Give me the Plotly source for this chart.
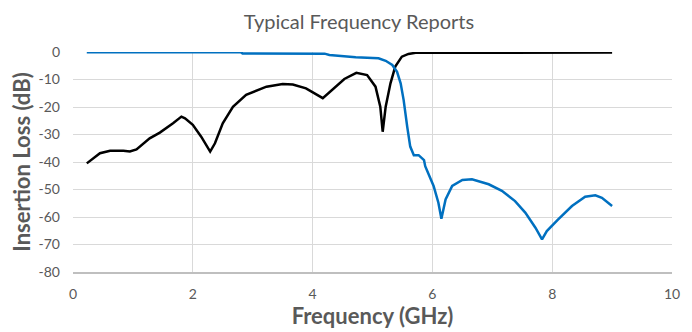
import plotly.graph_objects as go

# Black curve (pass-band / reflection response)
black_x = [0.23, 0.45, 0.62, 0.84, 0.95, 1.06, 1.28, 1.45, 1.67, 1.81, 1.87, 2.0, 2.14, 2.29, 2.37, 2.5,
           2.67, 2.89, 3.23, 3.5, 3.67, 3.89, 4.17, 4.33, 4.53, 4.73, 4.91, 5.05, 5.13, 5.17, 5.22, 5.3,
           5.38, 5.49, 5.6, 5.72, 6.0, 6.5, 7.0, 7.5, 8.0, 8.5, 9.0]
black_y = [-40.5, -36.8, -35.9, -35.9, -36.2, -35.4, -31.4, -29.3, -25.9, -23.5, -24.1, -26.5, -30.8, -36.2,
           -33.2, -25.9, -19.9, -15.6, -12.6, -11.6, -11.8, -13.2, -16.8, -13.8, -9.8, -7.6, -8.4, -12.6,
           -19.9, -29.0, -19.9, -11.4, -5.3, -1.7, -0.7, -0.3, -0.3, -0.2, -0.2, -0.2, -0.2, -0.2, -0.2]

# Blue curve (low-pass response)
blue_x = [0.23, 1.0, 2.0, 2.8, 2.83, 3.5, 4.2, 4.28, 4.53, 4.72, 5.1, 5.22, 5.33, 5.41, 5.47, 5.52, 5.58,
          5.63, 5.69, 5.77, 5.86, 5.88, 6.02, 6.1, 6.15, 6.22, 6.33, 6.5, 6.66, 6.94, 7.16, 7.38, 7.55,
          7.72, 7.83, 7.91, 8.1, 8.33, 8.55, 8.72, 8.83, 9.0]
blue_y = [-0.1, -0.1, -0.1, -0.1, -0.5, -0.5, -0.6, -1.1, -1.6, -1.9, -2.3, -3.2, -4.7, -7.2, -11.4, -17.5,
          -27.2, -34.4, -37.5, -37.5, -39.3, -41.5, -48.7, -54.8, -60.6, -53.6, -48.7, -46.5, -46.3, -48.1,
          -50.5, -54.2, -58.4, -63.9, -68.1, -65.1, -60.9, -56.0, -52.6, -52.1, -53.0, -56.0]

x_ticks = [0, 2, 4, 6, 8, 10]
y_ticks = [0, -10, -20, -30, -40, -50, -60, -70, -80]

fig = go.Figure()
fig.add_trace(go.Scatter(x=black_x, y=black_y, mode="lines",
                         line=dict(color="#000000", width=2.5), showlegend=False))
fig.add_trace(go.Scatter(x=blue_x, y=blue_y, mode="lines",
                         line=dict(color="#0070C0", width=2.5), showlegend=False))

# page body has an 8px default margin, so the figure is sized/offset to compensate
fig.update_layout(
    width=684, height=324,
    margin=dict(l=65, r=20, t=44, b=60),
    paper_bgcolor="white", plot_bgcolor="white",
    font=dict(family="Lato, Open Sans, sans-serif", color="#595959"),
    title=dict(text="Typical Frequency Reports", x=351 / 684, xanchor="center", xref="container",
               y=1 - 14 / 324, yanchor="middle", yref="container",
               font=dict(size=20, color="#595959")),
)
fig.update_xaxes(range=[0, 10], tickvals=x_ticks, ticktext=[str(v) for v in x_ticks],
                 showgrid=True, gridcolor="#d9d9d9", gridwidth=1,
                 showline=True, linecolor="#bfbfbf", linewidth=1.5,
                 zeroline=False, ticks="", ticklabelstandoff=8, automargin=False,
                 tickfont=dict(size=14, color="#595959"),
                 title=dict(text="<b>Frequency (GHz)</b>", font=dict(size=22, color="#595959"), standoff=6))
fig.update_yaxes(range=[-80, 0], tickvals=y_ticks, ticktext=[str(v) for v in y_ticks],
                 showgrid=True, gridcolor="#d9d9d9", gridwidth=1,
                 showline=False, zeroline=False, ticks="", ticklabelstandoff=12, automargin=False,
                 tickfont=dict(size=14, color="#595959"),
                 title=dict(text="<b>Insertion Loss (dB)</b>", font=dict(size=22, color="#595959"), standoff=6))

fig.write_html("out.html")
